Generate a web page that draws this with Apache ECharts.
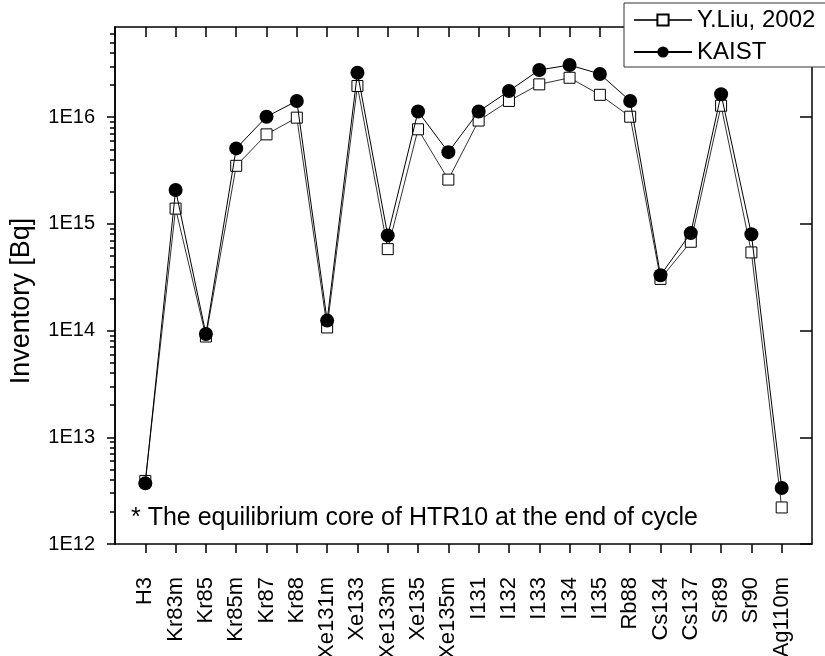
<!DOCTYPE html>
<html>
<head>
<meta charset="utf-8">
<script src="https://cdn.jsdelivr.net/npm/echarts@6/dist/echarts.min.js"></script>
<style>
html,body{margin:0;padding:0;background:#fff;}
#chart{width:825px;height:656px;}
</style>
</head>
<body>
<div id="chart"></div>
<script>
const categories = ['H3','Kr83m','Kr85','Kr85m','Kr87','Kr88','Xe131m','Xe133','Xe133m','Xe135','Xe135m','I131','I132','I133','I134','I135','Rb88','Cs134','Cs137','Sr89','Sr90','Ag110m'];
const liu2002 = [3.9e12,1.39e15,8.8e13,3.5e15,6.9e15,9.9e15,1.07e14,1.96e16,5.8e14,7.7e15,2.6e15,9.3e15,1.42e16,2.03e16,2.34e16,1.62e16,1.01e16,3.05e14,6.8e14,1.28e16,5.4e14,2.2e12];
const kaist = [3.7e12,2.08e15,9.3e13,5.1e15,1.01e16,1.42e16,1.24e14,2.61e16,7.8e14,1.13e16,4.7e15,1.13e16,1.76e16,2.77e16,3.08e16,2.54e16,1.42e16,3.3e14,8.2e14,1.64e16,8.0e14,3.35e12];
const yTickLabels = ['1E12','1E13','1E14','1E15','1E16'];
const seriesNames = ['Y.Liu, 2002','KAIST'];
const yMin = 1e12, yMax = 7e16;
const minorMultipliers = [2,3,4,5,6,7,8,9];
const decades = [1e12,1e13,1e14,1e15,1e16];

const minorTicks = [];
decades.forEach(d => minorMultipliers.forEach(m => { if (d*m <= yMax) minorTicks.push(d*m); }));

const chart = echarts.init(document.getElementById('chart'), null, {renderer:'canvas'});
const FONT = 'Liberation Sans, Arial, sans-serif';
const grid = {left:115, right:13, top:27, bottom:112, outerBoundsMode:'none', containLabel:false};

function labelFor(v){
  const e = Math.round(Math.log10(v));
  const s = '1E' + e;
  return yTickLabels.indexOf(s) >= 0 ? s : '';
}

const option = {
  backgroundColor:'#fff',
  animation:false,
  grid: grid,
  legend: {
    data: seriesNames,
    orient:'vertical',
    left:624, top:3,
    itemWidth:58, itemHeight:14, itemGap:8,
    padding:[5,12,3,9],
    borderColor:'#333', borderWidth:1,
    backgroundColor:'#fff',
    textStyle:{fontFamily:FONT, fontSize:24, color:'#000'}
  },
  xAxis: [
    {
      type:'value', min:-1, max:22, interval:1, position:'bottom',
      axisLine:{show:true, onZero:false, lineStyle:{color:'#000', width:1.5}},
      axisTick:{show:true, inside:false, length:9, lineStyle:{color:'#000', width:1.5}},
      splitLine:{show:false},
      axisLabel:{
        rotate:90, margin:33, fontFamily:FONT, fontSize:22, color:'#000',
        showMinLabel:false, showMaxLabel:false,
        formatter: v => (Number.isInteger(v) && v >= 0 && v < categories.length) ? categories[v] : ''
      }
    },
    {
      type:'value', min:-1, max:22, interval:1, position:'top',
      axisLine:{show:true, onZero:false, lineStyle:{color:'#000', width:1.5}},
      axisTick:{show:true, inside:true, length:10, lineStyle:{color:'#000', width:1.5}},
      splitLine:{show:false},
      axisLabel:{show:false}
    }
  ],
  yAxis: [
    {
      type:'log', logBase:10, min:yMin, max:yMax, position:'left',
      axisLine:{show:true, onZero:false, lineStyle:{color:'#000', width:1.5}},
      axisTick:{show:true, inside:false, length:8, lineStyle:{color:'#000', width:1.5}},
      splitLine:{show:false},
      axisLabel:{margin:20, fontFamily:FONT, fontSize:20, color:'#000', showMaxLabel:false, formatter: labelFor}
    },
    {
      type:'log', logBase:10, min:yMin, max:yMax, position:'left', offset:0,
      axisLine:{show:true, onZero:false, lineStyle:{color:'#000', width:1.5}},
      axisTick:{show:true, inside:false, length:5, customValues: minorTicks, lineStyle:{color:'#000', width:1.5}},
      splitLine:{show:false},
      axisLabel:{show:false}
    },
    {
      type:'log', logBase:10, min:yMin, max:yMax, position:'right',
      axisLine:{show:true, onZero:false, lineStyle:{color:'#000', width:1.5}},
      axisTick:{show:true, inside:true, length:12, lineStyle:{color:'#000', width:1.5}},
      splitLine:{show:false},
      axisLabel:{show:false}
    }
  ],
  graphic: [
    {
      type:'text', x:22, y:301, rotation:Math.PI/2,
      style:{text:'Inventory [Bq]', fontFamily:FONT, fontSize:27, fill:'#000', textAlign:'center', textVerticalAlign:'middle'}
    },
    {
      type:'text', left:131, top:506,
      style:{text:'* The equilibrium core of HTR10 at the end of cycle', fontFamily:FONT, fontSize:25, fill:'#000'}
    }
  ],
  series: [
    {
      name: seriesNames[0], type:'line', xAxisIndex:0, yAxisIndex:0,
      data: liu2002.map((v,i) => [i, v]),
      symbol:'rect', symbolSize:11,
      itemStyle:{color:'#fff', borderColor:'#000', borderWidth:1},
      lineStyle:{color:'#333', width:1},
      z:2
    },
    {
      name: seriesNames[1], type:'line', xAxisIndex:0, yAxisIndex:0,
      data: kaist.map((v,i) => [i, v]),
      symbol:'circle', symbolSize:14,
      itemStyle:{color:'#000', borderColor:'#000', borderWidth:0},
      lineStyle:{color:'#000', width:1},
      z:3
    }
  ]
};
chart.setOption(option);
</script>
</body>
</html>
